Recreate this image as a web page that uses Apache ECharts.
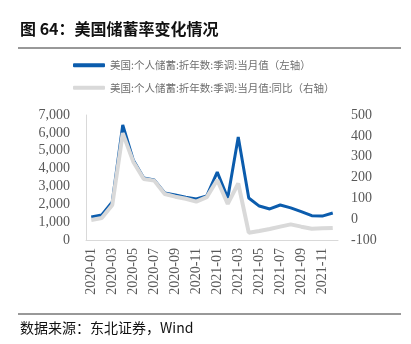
<!DOCTYPE html>
<html>
<head>
<meta charset="utf-8">
<script src="https://cdn.jsdelivr.net/npm/echarts@6/dist/echarts.min.js"></script>
<style>
  html, body { margin: 0; padding: 0; background: #ffffff; }
  #chart { width: 411px; height: 344px; }
</style>
</head>
<body>
<div id="chart"></div>
<script>
// Monthly periods, 2020-01 .. 2021-12
const months = [
  '2020-01','2020-02','2020-03','2020-04','2020-05','2020-06',
  '2020-07','2020-08','2020-09','2020-10','2020-11','2020-12',
  '2021-01','2021-02','2021-03','2021-04','2021-05','2021-06',
  '2021-07','2021-08','2021-09','2021-10','2021-11','2021-12'
];

// US personal saving, SAAR, billions USD (left axis)
const savingLevel = [
  1290, 1400, 2130, 6440, 4480, 3470,
  3360, 2630, 2520, 2400, 2300, 2470,
  3800, 2350, 5770, 2350, 1900, 1740,
  1960, 1800, 1590, 1360, 1340, 1510
];

// Same series, year-over-year change, % (right axis)
const savingYoY = [
  -4, 6, 68, 413, 276, 193,
  185, 121, 108, 98, 84, 106,
  188, 73, 172, -65, -57, -47,
  -36, -25, -36, -46, -44, -42
];

const legendNames = [
  '美国:个人储蓄:折年数:季调:当月值（左轴）',
  '美国:个人储蓄:折年数:季调:当月值:同比（右轴）'
];

const serifNum = '"Liberation Serif", "Noto Sans CJK SC", serif';
const cjk = '"Noto Sans CJK SC", "Liberation Serif", sans-serif';

const chart = echarts.init(document.getElementById('chart'));
chart.setOption({
  animation: false,
  backgroundColor: '#ffffff',
  title: [
    {
      text: '图 64：美国储蓄率变化情况',
      left: 15, top: 16,
      textStyle: { fontFamily: cjk, fontSize: 16, fontWeight: 'bold', color: '#111111' }
    },
    {
      text: '数据来源：东北证券，Wind',
      left: 15, top: 316,
      textStyle: { fontFamily: cjk, fontSize: 14, fontWeight: 'normal', color: '#111111' }
    }
  ],
  graphic: [
    { type: 'line', shape: { x1: 18, y1: 48, x2: 401, y2: 48 }, style: { stroke: '#333333', lineWidth: 1 } },
    { type: 'line', shape: { x1: 18, y1: 314, x2: 401, y2: 314 }, style: { stroke: '#333333', lineWidth: 1 } }
  ],
  legend: {
    orient: 'vertical',
    left: 73, top: 60,
    padding: 0,
    itemWidth: 32, itemHeight: 4, itemGap: 12,
    icon: 'roundRect',
    textStyle: { fontFamily: cjk, fontSize: 10.5, color: '#6e6e6e' },
    data: legendNames
  },
  grid: { left: 86, right: 73, top: 115, bottom: 104, containLabel: false },
  xAxis: {
    type: 'category',
    data: months,
    boundaryGap: true,
    axisLine: { lineStyle: { color: '#d9d9d9', width: 1 } },
    axisTick: { show: false },
    axisLabel: {
      interval: 1, rotate: 90, margin: 8,
      fontFamily: serifNum, fontSize: 14, color: '#595959'
    }
  },
  yAxis: [
    {
      type: 'value', min: 0, max: 7000, interval: 1000, position: 'left',
      splitLine: { show: false },
      axisLine: { show: true, lineStyle: { color: '#d9d9d9' } },
      axisTick: { show: false },
      axisLabel: {
        margin: 16, fontFamily: serifNum, fontSize: 14, color: '#595959',
        formatter: v => v.toLocaleString('en-US')
      }
    },
    {
      type: 'value', min: -100, max: 500, interval: 100, position: 'right',
      splitLine: { show: false },
      axisLine: { show: false },
      axisTick: { show: false },
      axisLabel: { margin: 13, fontFamily: serifNum, fontSize: 14, color: '#595959' }
    }
  ],
  series: [
    {
      name: legendNames[0], type: 'line', yAxisIndex: 0,
      data: savingLevel, showSymbol: false, symbol: 'none',
      lineStyle: { color: '#0b5cad', width: 3 },
      itemStyle: { color: '#0b5cad' }
    },
    {
      name: legendNames[1], type: 'line', yAxisIndex: 1,
      data: savingYoY, showSymbol: false, symbol: 'none',
      lineStyle: { color: '#d9d9d9', width: 4 },
      itemStyle: { color: '#d9d9d9' }
    }
  ]
});
</script>
</body>
</html>
